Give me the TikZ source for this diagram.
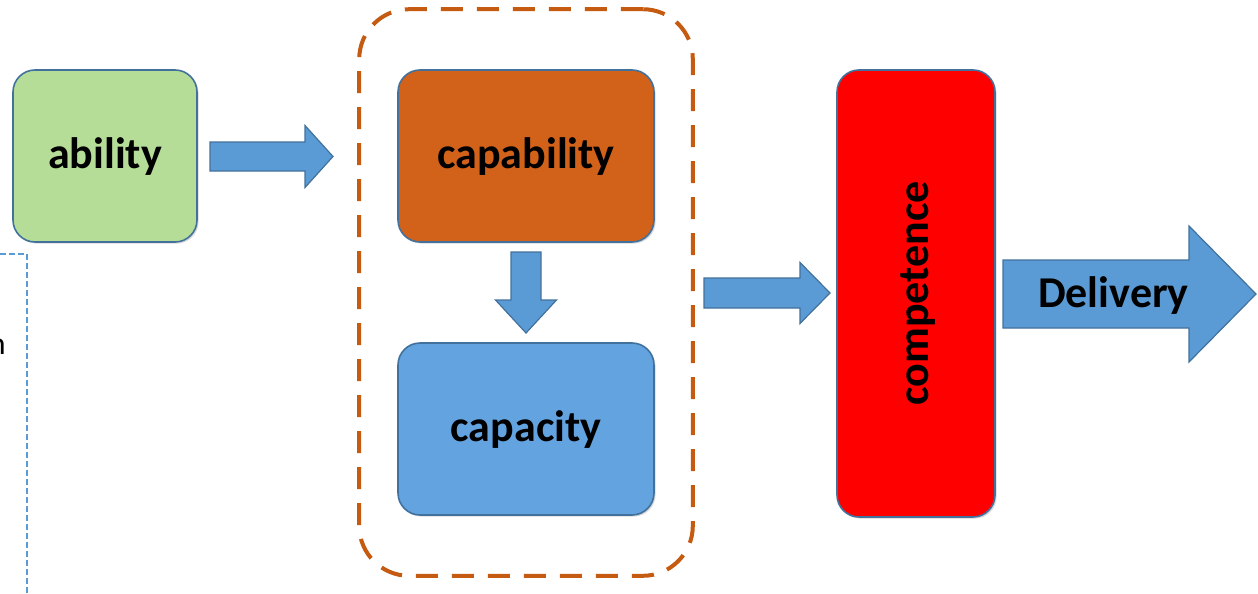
\documentclass[tikz,border=0pt]{standalone}
\usepackage{fontspec}
\setmainfont{Carlito}
\usetikzlibrary{calc,fit,shadows}

\definecolor{abilitygreen}{HTML}{B6DD98}
\definecolor{capaorange}{HTML}{D2611A}
\definecolor{capablue}{HTML}{62A3E0}
\definecolor{compred}{HTML}{FF0000}
\definecolor{edgeblue}{HTML}{41719C}
\definecolor{arrowblue}{HTML}{5B9BD5}
\definecolor{groupbrown}{HTML}{C55A11}

\tikzset{
  box/.style={draw=edgeblue, line width=0.8pt, rounded corners=11pt, inner sep=0pt,
    font=\bfseries\fontsize{22}{26}\selectfont, text height=16pt, text depth=4pt,
    drop shadow={opacity=0.3, shadow xshift=0.8pt, shadow yshift=-0.8pt}},
  arrowbody/.style={fill=arrowblue, draw=edgeblue, line width=0.6pt, line join=miter},
  groupline/.style={draw=groupbrown, line width=2pt, dash pattern=on 11pt off 7pt,
    rounded corners=25pt},
  leftrule/.style={draw=arrowblue, line width=0.75pt, dash pattern=on 3pt off 1.5pt},
}

% block arrow: from, to, shaft half width, head half width, head length
\newcommand{\blockarrow}[5]{%
  \coordinate (ba-h) at ($(#2)!#5!(#1)$);
  \draw[arrowbody] ($(#1)!#3!90:(#2)$) -- ($(ba-h)!#3!90:(#2)$) -- ($(ba-h)!#4!90:(#2)$)
    -- (#2) -- ($(ba-h)!#4!-90:(#2)$) -- ($(ba-h)!#3!-90:(#2)$) -- ($(#1)!#3!-90:(#2)$) -- cycle;}

\begin{document}
\begin{tikzpicture}[x=0.5pt, y=-0.5pt]
\useasboundingbox (0,0) rectangle (1258,594);

% boxes
\node[box, fill=abilitygreen, minimum width=92pt, minimum height=86pt] (ability) at (105,156) {ability};
\node[box, fill=capaorange, minimum width=128pt, minimum height=86pt] (capability) at (526,156) {capability};
\node[box, fill=capablue, minimum width=128pt, minimum height=86pt] (capacity) at (526,429) {capacity};
\node[box, fill=compred, rotate=90, minimum width=223.5pt, minimum height=79pt] (competence) at (916,293.5) {competence};

% dashed group
\node[groupline, fit=(capability) (capacity), inner xsep=19pt, inner ysep=30pt] (group) {};

% arrow ends
\coordinate (a1s) at (210,156.5);
\coordinate (a1t) at (333,156.5);
\coordinate (a2s) at (526,252);
\coordinate (a2t) at (526,333);
\coordinate (a3s) at (704,293);
\coordinate (a3t) at (830,293);
\coordinate (a4s) at (1003,294);
\coordinate (a4t) at (1256,294);

\blockarrow{a1s}{a1t}{7.25pt}{15.5pt}{14pt}
\blockarrow{a2s}{a2t}{7.5pt}{15.25pt}{16.5pt}
\blockarrow{a3s}{a3t}{7.5pt}{15.25pt}{15pt}
\blockarrow{a4s}{a4t}{17pt}{34pt}{33.5pt}
\node[font=\bfseries\fontsize{22}{26}\selectfont, anchor=base, inner sep=0pt] (delivery) at (1113.5,307) {Delivery};

% left margin
\draw[leftrule] (0,254) -| (27,594);
\node[font=\fontsize{16}{19}\selectfont, anchor=base east, inner sep=0pt] (cut) at (6,354) {n};

\end{tikzpicture}
\end{document}
